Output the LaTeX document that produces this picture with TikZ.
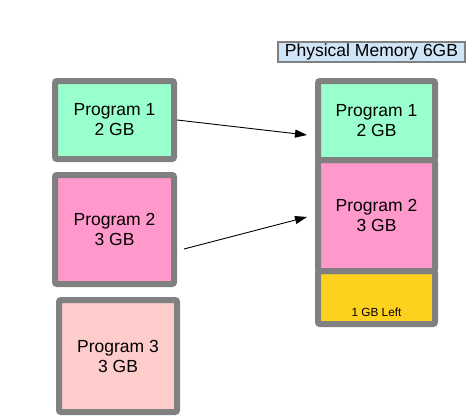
\documentclass[tikz,border=0pt]{standalone}
\usepackage{fontspec}
\setmainfont{Liberation Sans}
\usetikzlibrary{arrows.meta}
\definecolor{mint}{HTML}{99FFCC}
\definecolor{pinkb}{HTML}{FF99CC}
\definecolor{rosy}{HTML}{FFCCCC}
\definecolor{yel}{HTML}{FFD11F}
\definecolor{lblue}{HTML}{CFE4F7}
\definecolor{bord}{HTML}{808080}
\tikzset{
  membox/.style={draw=bord, line width=6pt, rounded corners=2pt, inner sep=0pt,
    align=center, font=\fontsize{17.5}{20}\selectfont},
  conn/.style={-{Triangle[length=12pt,width=8pt]}, line width=0.9pt},
}
\begin{document}
\begin{tikzpicture}[x=1pt,y=-1pt]
\useasboundingbox (0,0) rectangle (471,420);
% left programs
\node[membox, fill=mint, minimum width=119pt, minimum height=78pt] (p1) at (114.5,120) {Program 1\\2 GB};
\node[membox, fill=pinkb, minimum width=119pt, minimum height=109pt] (p2) at (114.5,229.5) {Program 2\\3 GB};
\node[membox, fill=rosy, minimum width=118pt, minimum height=112pt] (p3) at (118,356) {Program 3\\3 GB};
% physical memory
\node[membox, fill=yel, minimum width=117pt, minimum height=53pt] (m3) at (376.5,297.5) {};
\node[membox, fill=pinkb, minimum width=117pt, minimum height=111pt] (m2) at (376.5,215.5) {Program 2\\3 GB};
\node[membox, fill=mint, minimum width=117pt, minimum height=79pt] (m1) at (376.5,120.5) {Program 1\\2 GB};
\node[font=\fontsize{11.8}{13}\selectfont, inner sep=0pt] (left) at (376.5,312) {1 GB Left};
% title
\node[draw=bord, line width=1.2pt, fill=lblue, minimum width=187pt, minimum height=20pt, inner sep=0pt,
  font=\fontsize{17.5}{20}\selectfont] (title) at (371.5,52) {Physical Memory 6GB};
% arrows
\coordinate (a1s) at (177,120);
\coordinate (a1e) at (307,135);
\coordinate (a2s) at (184,249);
\coordinate (a2e) at (307,217);
\draw[conn] (a1s) -- (a1e);
\draw[conn] (a2s) -- (a2e);
\end{tikzpicture}
\end{document}
